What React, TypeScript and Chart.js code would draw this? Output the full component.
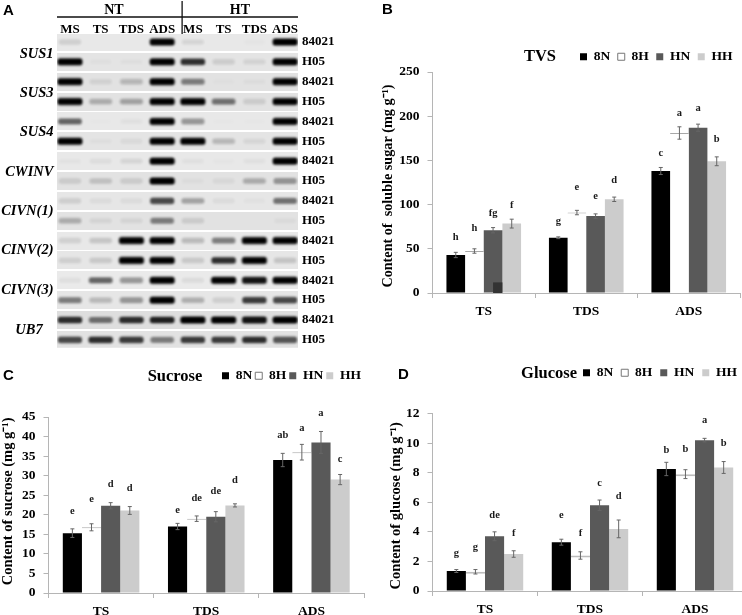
import React, { useEffect, useRef } from "react";
import { Chart, registerables } from "chart.js";

Chart.register(...registerables);

const SERIF = '"Liberation Serif"';
const categories = ["TS", "TDS", "ADS"];
const seriesNames = ["8N", "8H", "HN", "HH"];
const seriesColors = ["#000000", "#ffffff", "#595959", "#cccccc"];

// Panel B
const tvs8N = [43, 62.5, 138];
const tvs8H = [47.5, 91, 181];
const tvsHN = [71, 87, 187];
const tvsHH = [78.5, 106, 149];
const tvsErr8N = [3, 1, 4];
const tvsErr8H = [2.5, 2.5, 7];
const tvsErrHN = [3, 2.5, 4];
const tvsErrHH = [5, 2.5, 5];
const tvsLetters = [["h", "g", "c"], ["h", "e", "a"], ["fg", "e", "a"], ["f", "d", "b"]];
const tvsLetterY = [[63.4, 81.6, 157.9], [73.6, 119.4, 203.2], [90.6, 109.5, 208.9], [99.3, 127.7, 174]];

// Panel C
const suc8N = [15.3, 17, 34];
const suc8H = [16.8, 19, 36];
const sucHN = [22.3, 19.5, 38.5];
const sucHH = [21.1, 22.4, 29];
const sucErr8N = [1.1, 0.8, 1.7];
const sucErr8H = [0.9, 0.7, 2];
const sucErrHN = [0.8, 1.3, 2.8];
const sucErrHH = [1, 0.4, 1.3];
const sucLetters = [["e", "e", "ab"], ["e", "de", "a"], ["d", "de", "a"], ["d", "d", "c"]];
const sucLetterY = [[21, 21.2, 40.2], [23.9, 24.2, 42.2], [27.8, 25.9, 46], [26.9, 28.7, 34.2]];

// Panel D
const glu8N = [1.35, 3.3, 8.25];
const glu8H = [1.3, 2.4, 7.9];
const gluHN = [3.7, 5.8, 10.2];
const gluHH = [2.5, 4.2, 8.35];
const gluErr8N = [0.1, 0.2, 0.45];
const gluErr8H = [0.15, 0.25, 0.3];
const gluErrHN = [0.3, 0.35, 0.12];
const gluErrHH = [0.22, 0.6, 0.4];
const gluLetters = [["g", "e", "b"], ["g", "f", "b"], ["de", "c", "a"], ["f", "d", "b"]];
const gluLetterY = [[2.55, 5.1, 9.5], [2.95, 3.9, 9.57], [5.13, 7.3, 11.55], [3.9, 6.4, 10]];

// Panel A: band strength per lane
const laneNames = ["MS", "TS", "TDS", "ADS", "MS", "TS", "TDS", "ADS"];
const geneNames = ["SUS1", "SUS3", "SUS4", "CWINV", "CIVN(1)", "CINV(2)", "CIVN(3)", "UB7   "];
const geneRows = [0.6, 2.6, 4.55, 6.55, 8.5, 10.5, 12.5, 14.5];
const lineNames = ["84021", "H05"];
const sus1A = [0.15, 0, 0, 0.95, 0.12, 0, 0.03, 1];
const sus1B = [1, 0.04, 0.05, 1, 0.8, 0.15, 0.12, 1];
const sus3A = [1, 0.12, 0.25, 1, 0.5, 0.03, 0.05, 1];
const sus3B = [1, 0.3, 0.35, 1, 1, 0.55, 0.15, 1];
const sus4A = [0.6, 0.02, 0.06, 1, 0.4, 0.02, 0.02, 1];
const sus4B = [1, 0.05, 0.08, 1, 1, 0.25, 0.1, 1];
const cwinvA = [0.05, 0.08, 0.12, 1, 0.06, 0.03, 0.06, 1];
const cwinvB = [0.15, 0.2, 0.15, 1, 0.05, 0.08, 0.3, 0.4];
const civn1A = [0.15, 0.08, 0.08, 0.7, 0.35, 0.08, 0.04, 0.55];
const civn1B = [0.3, 0.1, 0.1, 0.5, 0.15, 0, 0, 0.06];
const cinv2A = [0.15, 0.2, 1, 1, 0.25, 0.5, 1, 1];
const cinv2B = [0.15, 0.18, 1, 1, 0.18, 0.8, 1, 0.2];
const civn3A = [0.08, 0.6, 0.4, 1, 0.1, 1, 0.9, 1];
const civn3B = [0.5, 0.25, 0.4, 1, 0.3, 0.15, 0.75, 0.7];
const ub7A = [0.8, 0.55, 0.8, 0.85, 1, 1, 0.9, 1];
const ub7B = [0.7, 0.8, 0.75, 0.5, 0.75, 0.75, 0.8, 0.65];
const gelRows = [sus1A, sus1B, sus3A, sus3B, sus4A, sus4B, cwinvA, cwinvB, civn1A, civn1B, cinv2A, cinv2B, civn3A, civn3B, ub7A, ub7B];
const rowTones = [232, 228, 226, 226, 232, 228, 232, 226, 230, 226, 232, 230, 234, 230, 222, 226];

function bandSprite(v: number) {
  const c = document.createElement("canvas");
  c.width = 36;
  c.height = 18;
  const g = c.getContext("2d")!;
  g.filter = "blur(1.1px)";
  g.fillStyle = `rgba(0,0,0,${Math.min(1, Math.pow(v, 1.2) * 1.05)})`;
  const w = 22 + 3 * v;
  const h = 5 + 2 * v;
  g.beginPath();
  g.roundRect(18 - w / 2, 9 - h / 2, w, h, 2.5);
  g.fill();
  return c;
}

function stripSprite(tone: number) {
  const c = document.createElement("canvas");
  c.width = 241;
  c.height = 18;
  const g = c.getContext("2d")!;
  g.fillStyle = `rgb(${tone},${tone},${tone})`;
  g.fillRect(0, 0, 241, 18);
  return c;
}

const fixedLegend = (x: number, y: number) => ({
  id: "fixedLegend",
  beforeLayout(chart: any) {
    const lg = chart.legend;
    if (lg && !lg.__fixed) {
      const fit = lg.fit.bind(lg);
      lg.fit = () => {
        fit();
        lg.height = 0;
      };
      lg.__fixed = true;
    }
  },
  afterLayout(chart: any) {
    const lg = chart.legend;
    if (!lg) return;
    const w = lg.width;
    lg.left = x - lg.options.labels.padding;
    lg.right = lg.left + w;
    lg.top = y - lg.options.labels.padding - 6;
    lg.bottom = lg.top + 50;
  },
});

const barExtras = (p: any) => ({
  id: "barExtras",
  afterDatasetsDraw(chart: any) {
    const ctx = chart.ctx;
    const ys = chart.scales.y;
    ctx.save();
    if (p.artifact != null) {
      const bar = chart.getDatasetMeta(2).data[0] as any;
      const top = ys.getPixelForValue(p.artifact);
      ctx.fillStyle = "#333333";
      ctx.fillRect(bar.x, top, bar.width / 2, ys.getPixelForValue(0) - top);
    }
    ctx.strokeStyle = "#666666";
    ctx.lineWidth = 1;
    p.errors.forEach((errs: number[], i: number) => {
      const meta = chart.getDatasetMeta(i);
      errs.forEach((e, j) => {
        const bar = meta.data[j] as any;
        const v = p.series[i][j];
        const hi = ys.getPixelForValue(v + e);
        const lo = ys.getPixelForValue(v - e);
        ctx.beginPath();
        ctx.moveTo(bar.x, hi);
        ctx.lineTo(bar.x, lo);
        ctx.moveTo(bar.x - 2, hi);
        ctx.lineTo(bar.x + 2, hi);
        ctx.moveTo(bar.x - 2, lo);
        ctx.lineTo(bar.x + 2, lo);
        ctx.stroke();
      });
    });
    ctx.fillStyle = "#1a1a1a";
    ctx.font = `bold 10.5px ${SERIF}`;
    ctx.textAlign = "center";
    ctx.textBaseline = "middle";
    p.letters.forEach((row: string[], i: number) => {
      const meta = chart.getDatasetMeta(i);
      row.forEach((t, j) => {
        ctx.fillText(t, (meta.data[j] as any).x, ys.getPixelForValue(p.letterY[i][j]));
      });
    });
    ctx.fillStyle = "#000";
    ctx.font = `bold 16.5px ${SERIF}`;
    ctx.fillText(p.title, p.titleX - p.left, p.titleY - p.top);
    ctx.restore();
  },
});

function makeBarChart(canvas: HTMLCanvasElement, p: any) {
  const axisColor = "#b5b5b5";
  return new Chart(canvas, {
    type: "bar",
    data: {
      labels: categories,
      datasets: p.series.map((values: number[], i: number) => ({
        label: seriesNames[i],
        data: values,
        backgroundColor: seriesColors[i],
        borderColor: i === 1 ? p.whiteEdge : seriesColors[i],
        borderWidth: i === 1 ? { top: p.whiteTop, left: 0, right: 0, bottom: 0 } : 0,
        borderSkipped: false,
        barPercentage: 1,
        categoryPercentage: 0.728,
      })),
    },
    options: {
      responsive: false,
      animation: false,
      layout: { padding: { top: p.plotTop - p.top, right: p.left + p.width - p.plotRight, left: 0, bottom: 0 } },
      plugins: {
        tooltip: { enabled: false },
        title: { display: false },
        legend: {
          display: true,
          position: "top",
          align: "start",
          labels: {
            boxWidth: 7,
            boxHeight: 7,
            padding: p.legendGap,
            color: "#000",
            font: { family: SERIF, size: 13.5, weight: "bold" },
            generateLabels: () =>
              seriesNames.map((n, i) => ({
                text: n,
                fillStyle: seriesColors[i],
                strokeStyle: i === 1 ? "#777777" : seriesColors[i],
                lineWidth: i === 1 ? 1 : 0,
                datasetIndex: i,
              })),
          },
        },
      },
      scales: {
        x: {
          grid: { drawOnChartArea: false, tickLength: 5, color: axisColor, offset: true },
          border: { color: axisColor },
          ticks: { color: "#000", padding: 5, font: { family: SERIF, size: 13.5, weight: "bold" } },
          afterFit: (s: any) => {
            s.height = p.top + p.height - p.plotBottom;
          },
        },
        y: {
          min: 0,
          max: p.max,
          grid: { drawOnChartArea: false, tickLength: 5, color: axisColor },
          border: { color: axisColor },
          ticks: { stepSize: p.step, color: "#000", padding: 8, font: { family: SERIF, size: 13.5, weight: "bold" } },
          title: {
            display: true,
            text: p.yTitle,
            color: "#000",
            padding: 0,
            font: { family: SERIF, size: p.yTitleSize, weight: "bold" },
          },
          afterFit: (s: any) => {
            s.width = p.plotLeft - p.left;
          },
        },
      },
    } as any,
    plugins: [fixedLegend(p.legendX - p.left, p.legendY - p.top), barExtras(p)],
  });
}

function makeGel(canvas: HTMLCanvasElement) {
  const strips = gelRows.map((_, r) => ({ x: 3.5, y: r }));
  const stripImgs = rowTones.map(stripSprite);
  const bands: { x: number; y: number }[] = [];
  const bandImgs: HTMLCanvasElement[] = [];
  gelRows.forEach((row, r) =>
    row.forEach((v, lane) => {
      bands.push({ x: lane, y: r });
      bandImgs.push(bandSprite(v));
    })
  );
  const headerPlugin = {
    id: "gelHeader",
    afterDraw(chart: any) {
      const { ctx, chartArea, scales } = chart;
      const top = chartArea.top;
      ctx.save();
      ctx.strokeStyle = "#111";
      ctx.lineWidth = 1.3;
      ctx.beginPath();
      ctx.moveTo(chartArea.left, top - 17);
      ctx.lineTo(chartArea.right, top - 17);
      const vx = scales.x.getPixelForValue(3.65);
      ctx.moveTo(vx, top - 33);
      ctx.lineTo(vx, top);
      ctx.stroke();
      ctx.fillStyle = "#000";
      ctx.font = `bold 14px ${SERIF}`;
      ctx.textAlign = "center";
      ctx.textBaseline = "middle";
      ctx.fillText("NT", scales.x.getPixelForValue(1.43), top - 24);
      ctx.fillText("HT", scales.x.getPixelForValue(5.53), top - 24);
      ctx.restore();
    },
  };
  const yLimits = { min: -0.4, max: 15.4, reverse: true };
  const noGrid = { display: false, drawTicks: false };
  return new Chart(canvas, {
    type: "scatter",
    data: {
      datasets: [
        { data: bands, pointStyle: bandImgs as any, pointRadius: 3 },
        { data: strips, pointStyle: stripImgs as any, pointRadius: 3 },
      ],
    },
    options: {
      responsive: false,
      animation: false,
      plugins: { legend: { display: false }, tooltip: { enabled: false } },
      scales: {
        x: {
          type: "linear",
          position: "top",
          min: -0.42,
          max: 7.42,
          grid: noGrid,
          border: { display: false },
          afterBuildTicks: (s: any) => {
            s.ticks = laneNames.map((_, i) => ({ value: i }));
          },
          afterFit: (s: any) => {
            s.height = 34;
          },
          ticks: {
            autoSkip: false,
            maxRotation: 0,
            padding: -3,
            color: "#000",
            font: { family: SERIF, size: 13, weight: "bold" },
            callback: (_: any, i: number) => laneNames[i],
          },
        },
        y: {
          ...yLimits,
          position: "left",
          grid: noGrid,
          border: { display: false },
          afterBuildTicks: (s: any) => {
            s.ticks = geneRows.map((value) => ({ value }));
          },
          afterFit: (s: any) => {
            s.width = 57;
          },
          ticks: {
            autoSkip: false,
            padding: 3.5,
            color: "#000",
            font: { family: SERIF, size: 14.5, weight: "bold", style: "italic" },
            callback: (_: any, i: number) => geneNames[i],
          },
        },
        yr: {
          ...yLimits,
          type: "linear",
          position: "right",
          grid: noGrid,
          border: { display: false },
          afterBuildTicks: (s: any) => {
            s.ticks = gelRows.map((_, value) => ({ value }));
          },
          afterFit: (s: any) => {
            s.width = 42;
          },
          ticks: {
            autoSkip: false,
            padding: 4,
            color: "#000",
            font: { family: SERIF, size: 13, weight: "bold" },
            callback: (_: any, i: number) => lineNames[i % 2],
          },
        },
      },
    } as any,
    plugins: [headerPlugin],
  });
}

const panelB = {
  left: 380, top: 40, width: 362, height: 280,
  plotLeft: 432.5, plotRight: 740, plotTop: 72, plotBottom: 293,
  max: 250, step: 50, yTitle: "Content of  soluble sugar (mg g\u207B\u00B9)  ", yTitleSize: 14.2,
  title: "TVS", titleX: 540, titleY: 57, legendX: 580, legendY: 56, legendGap: 7.5,
  whiteEdge: "#a8a8a8", whiteTop: 1,
  series: [tvs8N, tvs8H, tvsHN, tvsHH], errors: [tvsErr8N, tvsErr8H, tvsErrHN, tvsErrHH],
  letters: tvsLetters, letterY: tvsLetterY, artifact: 12,
};
const panelC = {
  left: 0, top: 360, width: 370, height: 255,
  plotLeft: 48.5, plotRight: 364, plotTop: 417, plotBottom: 593,
  max: 45, step: 5, yTitle: "  Content of sucrose (mg g\u207B\u00B9)", yTitleSize: 14.5,
  title: "Sucrose", titleX: 175, titleY: 377, legendX: 222, legendY: 375, legendGap: 3,
  whiteEdge: "#a8a8a8", whiteTop: 1,
  series: [suc8N, suc8H, sucHN, sucHH], errors: [sucErr8N, sucErr8H, sucErrHN, sucErrHH],
  letters: sucLetters, letterY: sucLetterY, artifact: null,
};
const panelD = {
  left: 388, top: 360, width: 372, height: 255,
  plotLeft: 432.5, plotRight: 747.5, plotTop: 413.5, plotBottom: 591,
  max: 12, step: 2, yTitle: "Content of glucose (mg g\u207B\u00B9)  ", yTitleSize: 14.5,
  title: "Glucose", titleX: 549, titleY: 374, legendX: 583, legendY: 372, legendGap: 8,
  whiteEdge: "#bdbdbd", whiteTop: 2,
  series: [glu8N, glu8H, gluHN, gluHH], errors: [gluErr8N, gluErr8H, gluErrHN, gluErrHH],
  letters: gluLetters, letterY: gluLetterY, artifact: null,
};
const panels = [panelB, panelC, panelD];
const panelLetters = [
  { t: "A", x: 3, y: 1 },
  { t: "B", x: 382, y: 0 },
  { t: "C", x: 3, y: 366 },
  { t: "D", x: 398, y: 365 },
];

export default function App() {
  const gelRef = useRef<HTMLCanvasElement>(null);
  const refs = useRef<(HTMLCanvasElement | null)[]>([]);
  useEffect(() => {
    const charts = [makeGel(gelRef.current!), ...panels.map((p, i) => makeBarChart(refs.current[i]!, p))];
    return () => charts.forEach((c) => c.destroy());
  }, []);
  return (
    <div style={{ position: "absolute", left: 0, top: 0, width: 742, height: 615, overflow: "hidden", background: "#fff", filter: "blur(0.3px)" }}>
      <canvas ref={gelRef} width={340} height={360} style={{ position: "absolute", left: 0, top: 0, width: 340, height: 360 }} />
      {panels.map((p, i) => (
        <canvas
          key={p.title}
          ref={(el) => {
            refs.current[i] = el;
          }}
          width={p.width}
          height={p.height}
          style={{ position: "absolute", left: p.left, top: p.top, width: p.width, height: p.height }}
        />
      ))}
      {panelLetters.map((l) => (
        <span key={l.t} style={{ position: "absolute", left: l.x, top: l.y, font: 'bold 15px "Liberation Sans"', color: "#000" }}>
          {l.t}
        </span>
      ))}
    </div>
  );
}
